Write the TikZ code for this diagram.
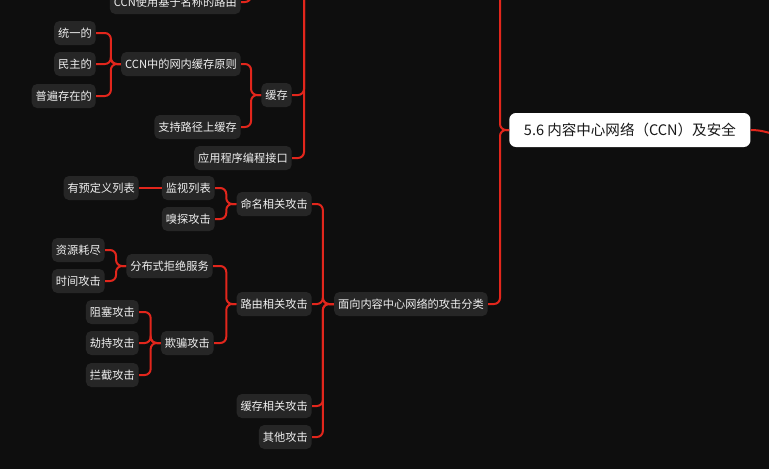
\documentclass[tikz,border=0pt]{standalone}
\usepackage{fontspec}
\usepackage{tikz}
\newfontfamily\cjk{Noto Sans CJK SC}
\definecolor{bgcol}{RGB}{14, 14, 14}
\definecolor{boxcol}{RGB}{38, 38, 38}
\definecolor{txtcol}{RGB}{240, 240, 240}
\definecolor{linecol}{RGB}{226, 38, 28}
\definecolor{rootfill}{RGB}{255, 255, 255}
\definecolor{roottxt}{RGB}{24, 24, 24}

\begin{document}
\begin{tikzpicture}[
    x=0.75pt, y=-0.75pt,
    box/.style={rectangle, rounded corners=4pt, fill=boxcol, text=txtcol, anchor=east,
                minimum height=18pt, inner xsep=3pt, inner ysep=0pt,
                font=\cjk\fontsize{8.4}{10}\selectfont},
    topbox/.style={rectangle, rounded corners=5pt, fill=rootfill, text=roottxt, anchor=west,
                   minimum height=25.5pt, inner xsep=11pt, inner ysep=0pt,
                   font=\cjk\fontsize{10.9}{12}\selectfont},
    link/.style={draw=linecol, line width=1.5pt, rounded corners=4.5pt}
  ]
  % Canvas
  \fill[bgcol] (0,0) rectangle (769,469);
  \useasboundingbox (0,0) rectangle (769,469);
  \clip (0,0) rectangle (769,469);

  % Caching branch
  \node[box] (ccnroute) at (241,2) {CCN使用基于名称的路由};
  \node[box] (uniform) at (96,33) {统一的};
  \node[box] (democ) at (96,64) {民主的};
  \node[box] (ubiq) at (96,96) {普遍存在的};
  \node[box] (incache) at (241,64) {CCN中的网内缓存原则};
  \node[box] (onpath) at (241,127) {支持路径上缓存};
  \node[box] (cache) at (292,95) {缓存};
  \node[box] (api) at (292,158) {应用程序编程接口};

  % Topic
  \node[topbox] (topic) at (509,130) {5.6 内容中心网络（CCN）及安全};

  % Attack branch
  \node[box] (atk) at (488,304) {面向内容中心网络的攻击分类};
  \node[box] (naming) at (312,204) {命名相关攻击};
  \node[box] (routing) at (312,304) {路由相关攻击};
  \node[box] (caching) at (312,406) {缓存相关攻击};
  \node[box] (other) at (312,437) {其他攻击};
  \node[box] (watch) at (215,188) {监视列表};
  \node[box] (sniff) at (215,219) {嗅探攻击};
  \node[box] (predef) at (139,188) {有预定义列表};
  \node[box] (ddos) at (213,266) {分布式拒绝服务};
  \node[box] (exhaust) at (105,250) {资源耗尽};
  \node[box] (timing) at (105,281) {时间攻击};
  \node[box] (spoof) at (214,343) {欺骗攻击};
  \node[box] (block) at (139,312) {阻塞攻击};
  \node[box] (hijack) at (139,343) {劫持攻击};
  \node[box] (intercept) at (139,375) {拦截攻击};

  % Free ends outside the frame
  \coordinate (upA) at (251,-40);
  \coordinate (upB) at (304,-40);
  \coordinate (upC) at (500,-40);
  \coordinate (hub) at (800,142);

  % Links
  \draw[link] (ccnroute.east) -| (upA);
  \draw[link] (cache.east) -| (upB);
  \draw[link] (api.east) -| (upB);
  \draw[link] (topic.west) -| (upC);
  \draw[link] (topic.west) -- ++(-9,0) |- (atk.east);
  \draw[link] (topic.east) to[out=0, in=172] (hub);
  \foreach \kid in {incache, onpath}
    \draw[link] (cache.west) -- ++(-10,0) |- (\kid.east);
  \foreach \kid in {uniform, democ, ubiq}
    \draw[link] (incache.west) -- ++(-10,0) |- (\kid.east);
  \foreach \kid in {naming, routing, caching, other}
    \draw[link] (atk.west) -- ++(-11,0) |- (\kid.east);
  \foreach \kid in {watch, sniff}
    \draw[link] (naming.west) -- ++(-10,0) |- (\kid.east);
  \draw[link] (watch.west) -- (predef.east);
  \foreach \kid in {ddos, spoof}
    \draw[link] (routing.west) -- ++(-10,0) |- (\kid.east);
  \foreach \kid in {exhaust, timing}
    \draw[link] (ddos.west) -- ++(-10,0) |- (\kid.east);
  \foreach \kid in {block, hijack, intercept}
    \draw[link] (spoof.west) -- ++(-10,0) |- (\kid.east);
\end{tikzpicture}
\end{document}
